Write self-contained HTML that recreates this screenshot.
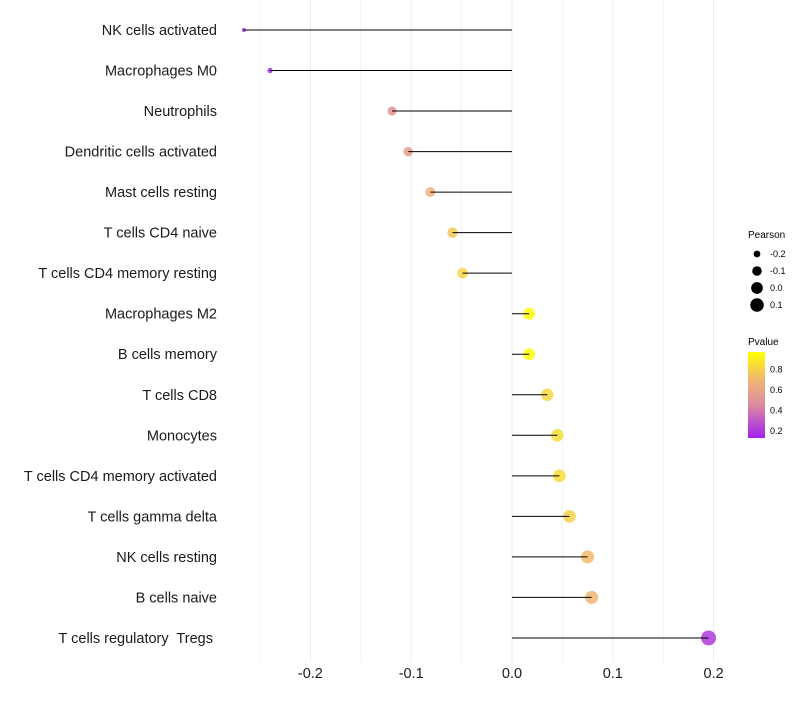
<!DOCTYPE html>
<html><head><meta charset="utf-8"><style>
body{margin:0;background:#fff;font-family:"Liberation Sans",sans-serif}
text{white-space:pre}
</style></head><body>
<svg id="chart" width="800" height="700" xmlns="http://www.w3.org/2000/svg" font-family="Liberation Sans, sans-serif">
<defs><linearGradient id="pg" x1="0" y1="1" x2="0" y2="0">
<stop offset="0" stop-color="#a020f0"/><stop offset="0.38" stop-color="#dc8aa0"/><stop offset="0.69" stop-color="#f0b870"/><stop offset="1" stop-color="#ffff00"/></linearGradient></defs>
<g id="grid"></g>
<g id="marks"></g>
<g id="ylabels"></g>
<g id="xlabels"></g>
<g font-size="9">
<text x="748" y="238" font-size="10">Pearson</text>
<g id="sizeleg"></g>
</g>
<g font-size="9">
<text x="748" y="345" font-size="10">Pvalue</text>
<rect x="748" y="352" width="17" height="86" fill="url(#pg)"/>
<g id="colleg"></g>
</g>
</svg>
<script>
const categories=["NK cells activated","Macrophages M0","Neutrophils","Dendritic cells activated","Mast cells resting","T cells CD4 naive","T cells CD4 memory resting","Macrophages M2","B cells memory","T cells CD8","Monocytes","T cells CD4 memory activated","T cells gamma delta","NK cells resting","B cells naive","T cells regulatory  Tregs "];
const pearson=[-0.266,-0.240,-0.119,-0.103,-0.081,-0.059,-0.049,0.017,0.017,0.035,0.045,0.047,0.057,0.075,0.079,0.195];
const pvalues=[0.15,0.17,0.50,0.56,0.68,0.77,0.81,0.95,0.95,0.82,0.84,0.84,0.80,0.72,0.70,0.21];
const xTicks=[-0.2,-0.1,0,0.1,0.2];
const xTickLabels=["-0.2","-0.1","0.0","0.1","0.2"];
const sizeLegend=[-0.2,-0.1,0.0,0.1];
const colorLegend=[0.2,0.4,0.6,0.8];
const NS="http://www.w3.org/2000/svg";
const x=v=>512+v*1008;
const y=i=>30+i*40.53;
const r=v=>Math.sqrt(Math.max(1,34.1+113.3*v));
const pMin=0.13,pMax=0.97;
const stops=[[0,[160,32,240]],[0.38,[220,138,160]],[0.69,[240,184,112]],[1,[255,255,0]]];
function col(p){let t=Math.max(0,Math.min(1,(p-pMin)/(pMax-pMin)));for(let k=1;k<stops.length;k++){if(t<=stops[k][0]){const a=stops[k-1],b=stops[k],u=(t-a[0])/(b[0]-a[0]);return "rgb("+a[1].map((c,j)=>Math.round(c+(b[1][j]-c)*u)).join(",")+")";}}return "rgb(255,255,0)";}
function mk(tag,attrs,parent){const e=document.createElementNS(NS,tag);for(const k in attrs)e.setAttribute(k,attrs[k]);parent.appendChild(e);return e;}
const grid=document.getElementById('grid');
for(let v=-0.25;v<=0.2001;v+=0.05){const g=mk('line',{x1:x(v),x2:x(v),y1:0,y2:662,stroke:'#ebebeb','stroke-width':Math.abs(Math.round(v*20))%2===0?1:0.6},grid);

}
const marks=document.getElementById('marks');
categories.forEach((c,i)=>{
 const pt=mk('circle',{cx:x(pearson[i]),cy:y(i),r:r(pearson[i]),fill:col(pvalues[i]),'fill-opacity':0.85},marks);
 
 
 const s=mk('line',{x1:x(0),x2:x(pearson[i]),y1:y(i),y2:y(i),stroke:'#000','stroke-width':1},marks);
 
 
 const t=mk('text',{x:217,y:y(i)+5,'text-anchor':'end','font-size':14.5,fill:'#1a1a1a'},document.getElementById('ylabels'));
 t.textContent=c;
 
 
});
xTicks.forEach((v,i)=>{const t=mk('text',{x:x(v),y:678,'text-anchor':'middle','font-size':14.5,fill:'#1a1a1a'},document.getElementById('xlabels'));
 t.textContent=xTickLabels[i];
 
 });
sizeLegend.forEach((v,i)=>{const g=document.getElementById('sizeleg');
 const c=mk('circle',{cx:757,cy:254+i*17,r:r(v),fill:'#000'},g);
 
 
 const t=mk('text',{x:770,y:257+i*17},g);t.textContent=v.toFixed(1).replace('-0.0','0.0');
 
 });
colorLegend.forEach(v=>{const g=document.getElementById('colleg');
 const yy=438-(v-pMin)/(pMax-pMin)*86;
 const t=mk('text',{x:770,y:yy+3},g);t.textContent=v.toFixed(1);
 
 });
</script>
</body></html>
